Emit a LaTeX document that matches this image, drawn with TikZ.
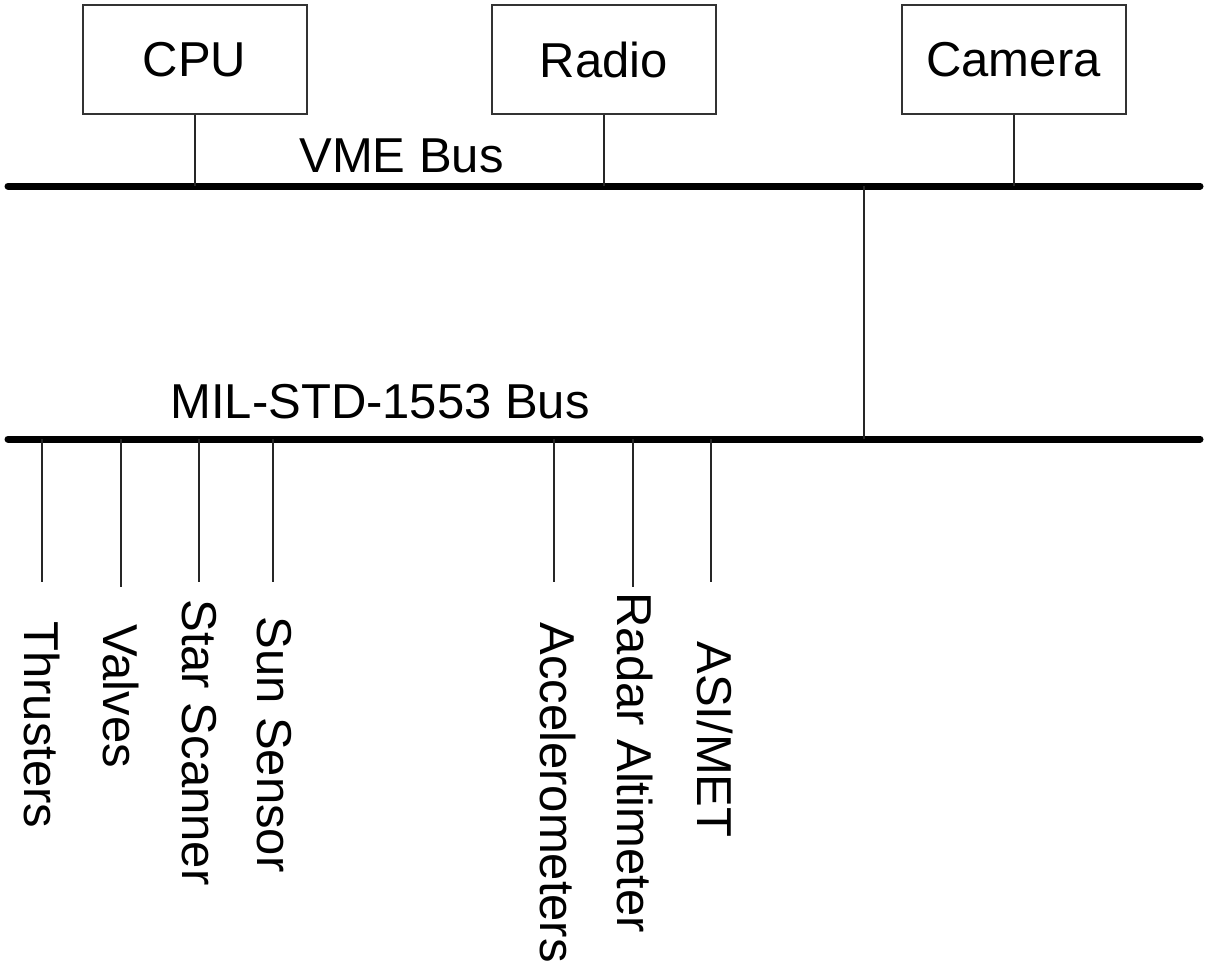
\documentclass[tikz,border=0pt]{standalone}
\usepackage{fontspec}
\setmainfont{Liberation Sans}
\begin{document}
\begin{tikzpicture}[x=0.5pt,y=-0.5pt,
  txt/.style={inner sep=0pt, font=\fontsize{24.5}{29}\selectfont},
  box/.style={txt, draw=black!80, line width=1pt, minimum width=112pt, minimum height=54.5pt},
  vlbl/.style={txt, rotate=-90, anchor=base west},
  bus/.style={line width=3.5pt, line cap=round},
  wire/.style={line width=1pt, draw=black!85}]
\useasboundingbox (0,0) rectangle (1205,963);
% devices on VME bus
\node[box] (cpu) at (194.5,59.5) {CPU};
\node[box] (radio) at (604,59.5) {Radio};
\node[box] (camera) at (1013.5,59.5) {Camera};
% VME bus
\coordinate (vmeL) at (8,186);
\coordinate (vmeR) at (1200,186);
\draw[bus] (vmeL) -- (vmeR);
\node[txt, anchor=base west] (vmelbl) at (299,172) {VME Bus};
\coordinate (cpuT) at (cpu.south |- vmeL);
\coordinate (radioT) at (radio.south |- vmeL);
\coordinate (cameraT) at (camera.south |- vmeL);
\draw[wire] (cpu.south) -- (cpuT);
\draw[wire] (radio.south) -- (radioT);
\draw[wire] (camera.south) -- (cameraT);
% MIL-STD-1553 bus
\coordinate (milL) at (8,439);
\coordinate (milR) at (1200,439);
\draw[bus] (milL) -- (milR);
\node[txt, anchor=base west] (millbl) at (170,418) {MIL-STD-1553 Bus};
% bridge
\coordinate (brA) at (864,186);
\coordinate (brB) at (864,439);
\draw[wire] (brA) -- (brB);
% stubs
\coordinate (s1a) at (42,439);  \coordinate (s1b) at (42,582);
\coordinate (s2a) at (121,439); \coordinate (s2b) at (121,587);
\coordinate (s3a) at (199,439); \coordinate (s3b) at (199,582);
\coordinate (s4a) at (273,439); \coordinate (s4b) at (273,582);
\coordinate (s5a) at (554,439); \coordinate (s5b) at (554,582);
\coordinate (s6a) at (633,439); \coordinate (s6b) at (633,587);
\coordinate (s7a) at (711,439); \coordinate (s7b) at (711,582);
\draw[wire] (s1a) -- (s1b);
\draw[wire] (s2a) -- (s2b);
\draw[wire] (s3a) -- (s3b);
\draw[wire] (s4a) -- (s4b);
\draw[wire] (s5a) -- (s5b);
\draw[wire] (s6a) -- (s6b);
\draw[wire] (s7a) -- (s7b);
% labels
\node[vlbl] (thr) at (25,621) {Thrusters};
\node[vlbl] (val) at (103,624) {Valves};
\node[vlbl] (star) at (182,599) {Star Scanner};
\node[vlbl] (sun) at (257,616) {Sun Sensor};
\node[vlbl] (acc) at (540,622) {Accelerometers};
\node[vlbl] (rad) at (617,592) {Radar Altimeter};
\node[vlbl] (asi) at (697,641) {ASI/MET};
\end{tikzpicture}
\end{document}
